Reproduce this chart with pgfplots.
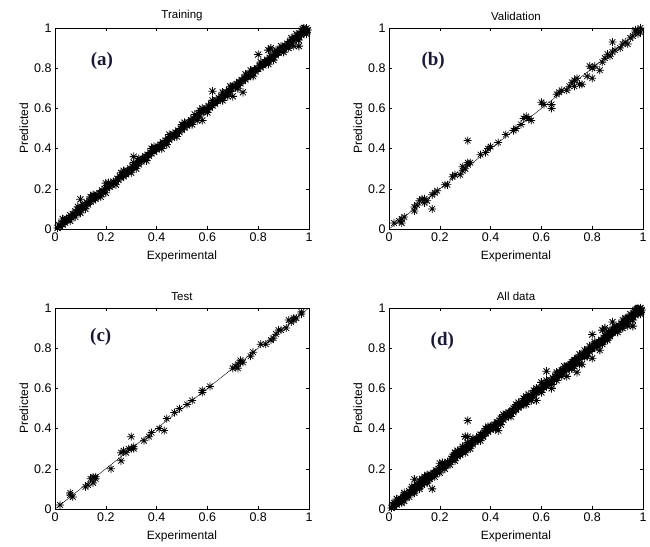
\documentclass[border=0pt]{standalone}
\usepackage{fontspec}
\setmainfont{Liberation Sans}
\newfontfamily\tnr{Liberation Serif}
\usepackage{pgfplots}
\usepackage{pgfplotstable}
\pgfplotsset{compat=1.18}
\usepgfplotslibrary{groupplots}
\usetikzlibrary{calc}
\definecolor{labnavy}{RGB}{25,25,55}

% MATLAB-like '*' marker: plus and cross on top of each other
\pgfdeclareplotmark{mstar}{%
  \pgfpathmoveto{\pgfqpoint{-\pgfplotmarksize}{0pt}}\pgfpathlineto{\pgfqpoint{\pgfplotmarksize}{0pt}}%
  \pgfpathmoveto{\pgfqpoint{0pt}{-\pgfplotmarksize}}\pgfpathlineto{\pgfqpoint{0pt}{\pgfplotmarksize}}%
  \pgfpathmoveto{\pgfqpoint{-.707\pgfplotmarksize}{-.707\pgfplotmarksize}}\pgfpathlineto{\pgfqpoint{.707\pgfplotmarksize}{.707\pgfplotmarksize}}%
  \pgfpathmoveto{\pgfqpoint{-.707\pgfplotmarksize}{.707\pgfplotmarksize}}\pgfpathlineto{\pgfqpoint{.707\pgfplotmarksize}{-.707\pgfplotmarksize}}%
  \pgfusepathqstroke}

\pgfplotstableread{
x y
0.010 0.005
0.015 0.020
0.020 0.012
0.025 0.030
0.030 0.022
0.030 0.050
0.035 0.040
0.040 0.032
0.045 0.052
0.050 0.045
0.055 0.048
0.060 0.068
0.060 0.040
0.065 0.058
0.070 0.075
0.075 0.070
0.080 0.088
0.080 0.060
0.085 0.080
0.090 0.095
0.090 0.110
0.095 0.088
0.100 0.148
0.100 0.080
0.105 0.110
0.110 0.102
0.115 0.120
0.120 0.115
0.120 0.100
0.125 0.132
0.130 0.122
0.135 0.140
0.140 0.136
0.140 0.160
0.145 0.155
0.150 0.142
0.150 0.170
0.155 0.165
0.160 0.150
0.165 0.170
0.170 0.162
0.175 0.178
0.180 0.176
0.180 0.160
0.185 0.192
0.190 0.182
0.195 0.200
0.200 0.228
0.200 0.180
0.205 0.202
0.210 0.215
0.210 0.230
0.215 0.210
0.220 0.226
0.225 0.220
0.230 0.235
0.240 0.236
0.240 0.220
0.245 0.250
0.250 0.244
0.255 0.262
0.260 0.255
0.260 0.280
0.265 0.268
0.270 0.262
0.270 0.290
0.275 0.282
0.280 0.272
0.285 0.290
0.290 0.284
0.295 0.302
0.300 0.296
0.300 0.280
0.305 0.312
0.310 0.360
0.310 0.330
0.315 0.318
0.320 0.314
0.320 0.300
0.325 0.330
0.330 0.322
0.330 0.350
0.335 0.342
0.340 0.336
0.345 0.350
0.350 0.344
0.355 0.362
0.360 0.355
0.360 0.340
0.365 0.370
0.370 0.364
0.375 0.380
0.380 0.376
0.380 0.400
0.385 0.392
0.390 0.384
0.390 0.410
0.395 0.400
0.400 0.396
0.405 0.410
0.410 0.402
0.415 0.420
0.420 0.418
0.420 0.400
0.425 0.432
0.430 0.420
0.435 0.440
0.440 0.436
0.440 0.420
0.445 0.452
0.450 0.444
0.450 0.470
0.455 0.460
0.460 0.455
0.465 0.472
0.470 0.462
0.475 0.480
0.480 0.476
0.480 0.460
0.485 0.490
0.490 0.482
0.495 0.500
0.500 0.494
0.500 0.520
0.505 0.512
0.510 0.504
0.510 0.530
0.515 0.520
0.520 0.514
0.525 0.530
0.530 0.524
0.535 0.542
0.540 0.536
0.540 0.520
0.545 0.552
0.550 0.570
0.555 0.556
0.560 0.552
0.560 0.540
0.565 0.572
0.570 0.562
0.570 0.590
0.575 0.580
0.580 0.540
0.580 0.600
0.585 0.588
0.590 0.586
0.595 0.600
0.600 0.594
0.600 0.580
0.605 0.612
0.610 0.604
0.615 0.622
0.620 0.685
0.620 0.614
0.620 0.640
0.625 0.630
0.630 0.624
0.635 0.640
0.640 0.636
0.645 0.652
0.650 0.644
0.655 0.660
0.660 0.680
0.660 0.654
0.660 0.640
0.665 0.672
0.670 0.664
0.675 0.680
0.680 0.676
0.680 0.660
0.685 0.692
0.690 0.684
0.690 0.710
0.695 0.700
0.700 0.660
0.700 0.710
0.705 0.712
0.710 0.704
0.715 0.722
0.720 0.714
0.720 0.700
0.725 0.732
0.730 0.724
0.735 0.742
0.740 0.680
0.740 0.736
0.745 0.752
0.750 0.744
0.750 0.770
0.755 0.762
0.760 0.755
0.765 0.770
0.770 0.764
0.770 0.790
0.775 0.782
0.780 0.776
0.780 0.760
0.785 0.792
0.790 0.784
0.795 0.800
0.800 0.868
0.800 0.796
0.805 0.812
0.810 0.804
0.810 0.830
0.815 0.822
0.820 0.814
0.825 0.832
0.830 0.824
0.835 0.842
0.840 0.890
0.840 0.836
0.840 0.820
0.845 0.852
0.850 0.900
0.850 0.844
0.855 0.862
0.860 0.855
0.860 0.840
0.865 0.872
0.870 0.864
0.870 0.890
0.875 0.882
0.880 0.876
0.885 0.892
0.890 0.884
0.890 0.910
0.895 0.902
0.900 0.894
0.900 0.880
0.905 0.912
0.910 0.904
0.915 0.922
0.920 0.914
0.920 0.900
0.925 0.932
0.930 0.924
0.930 0.950
0.935 0.942
0.940 0.936
0.940 0.910
0.945 0.952
0.950 0.944
0.950 0.970
0.955 0.962
0.960 0.910
0.960 0.955
0.960 0.940
0.965 0.972
0.970 0.964
0.970 0.985
0.975 0.982
0.975 0.995
0.980 0.976
0.980 0.990
0.980 1.000
0.985 0.992
0.985 0.980
0.990 0.985
0.990 0.998
0.990 0.970
0.995 0.990
}\training

\pgfplotstableread{
x y
0.02 0.03
0.04 0.04
0.05 0.05
0.05 0.03
0.06 0.06
0.10 0.11
0.10 0.09
0.11 0.12
0.12 0.14
0.13 0.15
0.14 0.15
0.15 0.14
0.14 0.13
0.17 0.10
0.17 0.17
0.18 0.18
0.19 0.19
0.22 0.22
0.23 0.22
0.25 0.26
0.26 0.27
0.28 0.27
0.29 0.29
0.29 0.31
0.30 0.30
0.31 0.33
0.31 0.32
0.32 0.33
0.31 0.44
0.36 0.37
0.38 0.38
0.39 0.40
0.40 0.41
0.43 0.43
0.46 0.47
0.49 0.49
0.50 0.50
0.52 0.52
0.53 0.55
0.54 0.56
0.55 0.55
0.56 0.54
0.60 0.63
0.61 0.62
0.64 0.62
0.64 0.60
0.66 0.67
0.67 0.68
0.68 0.69
0.70 0.69
0.71 0.71
0.72 0.73
0.73 0.74
0.73 0.71
0.74 0.75
0.75 0.72
0.76 0.72
0.78 0.76
0.79 0.81
0.80 0.80
0.80 0.75
0.81 0.81
0.83 0.79
0.84 0.83
0.85 0.85
0.86 0.87
0.87 0.86
0.88 0.93
0.88 0.88
0.89 0.89
0.91 0.90
0.92 0.92
0.93 0.93
0.94 0.92
0.95 0.95
0.96 0.96
0.97 0.98
0.97 0.99
0.98 0.99
0.98 0.97
0.99 0.98
0.99 1.00
}\validation

\pgfplotstableread{
x y
0.02 0.02
0.06 0.07
0.06 0.08
0.07 0.06
0.12 0.11
0.13 0.12
0.14 0.15
0.15 0.16
0.15 0.13
0.16 0.16
0.16 0.15
0.22 0.20
0.26 0.28
0.26 0.24
0.27 0.29
0.28 0.28
0.29 0.30
0.30 0.36
0.30 0.30
0.31 0.31
0.31 0.30
0.35 0.34
0.37 0.36
0.38 0.38
0.41 0.40
0.43 0.39
0.44 0.45
0.47 0.48
0.49 0.50
0.52 0.52
0.54 0.54
0.58 0.58
0.58 0.59
0.61 0.61
0.70 0.70
0.71 0.71
0.72 0.72
0.73 0.74
0.73 0.73
0.72 0.70
0.74 0.73
0.77 0.76
0.78 0.78
0.81 0.82
0.83 0.82
0.85 0.84
0.86 0.85
0.87 0.87
0.88 0.89
0.89 0.89
0.91 0.90
0.92 0.94
0.93 0.93
0.94 0.94
0.94 0.95
0.95 0.95
0.97 0.97
0.97 0.98
}\test

\begin{document}
\begin{tikzpicture}
\begin{groupplot}[
    group style={group size=2 by 2, horizontal sep=80pt, vertical sep=79pt},
    scale only axis, width=254pt, height=201pt,
    xmin=0, xmax=1, ymin=0, ymax=1,
    xtick={0,0.2,...,1}, ytick={0,0.2,...,1},
    tick align=inside, major tick length=3pt,
    tick style={black, line width=0.4pt},
    axis line style={black, line width=0.5pt},
    /pgf/number format/assume math mode=true,
    tick label style={font=\fontsize{12.5}{14}\selectfont},
    label style={font=\fontsize{12}{14}\selectfont},
    title style={font=\fontsize{11.5}{13}\selectfont, yshift=-2pt},
    xlabel={Experimental}, ylabel={Predicted},
    xlabel style={yshift=-3pt}, ylabel style={yshift=-1pt},
    every axis plot/.append style={black},
]
\nextgroupplot[title={Training}]
\addplot[only marks, mark=mstar, mark size=4.2pt, line width=0.85pt] table {\training};
\addplot[no marks, line width=0.4pt] coordinates {(0,0) (1,1)};
\node[font=\tnr\bfseries\fontsize{19}{19}\selectfont, text=labnavy] at (axis cs:0.185,0.836) {(a)};

\nextgroupplot[title={Validation}]
\addplot[only marks, mark=mstar, mark size=4pt, line width=0.75pt] table {\validation};
\addplot[no marks, line width=0.4pt] coordinates {(0,0) (1,1)};
\node[font=\tnr\bfseries\fontsize{19}{19}\selectfont, text=labnavy] at (axis cs:0.174,0.836) {(b)};

\nextgroupplot[title={Test}]
\addplot[only marks, mark=mstar, mark size=4pt, line width=0.75pt] table {\test};
\addplot[no marks, line width=0.4pt] coordinates {(0,0) (1,1)};
\node[font=\tnr\bfseries\fontsize{19}{19}\selectfont, text=labnavy] at (axis cs:0.18,0.855) {(c)};

\nextgroupplot[title={All data}]
\addplot[only marks, mark=mstar, mark size=4.2pt, line width=0.85pt] table {\training};
\addplot[only marks, mark=mstar, mark size=4.2pt, line width=0.85pt] table {\validation};
\addplot[only marks, mark=mstar, mark size=4.2pt, line width=0.85pt] table {\test};
\addplot[no marks, line width=0.4pt] coordinates {(0,0) (1,1)};
\node[font=\tnr\bfseries\fontsize{19}{19}\selectfont, text=labnavy] at (axis cs:0.21,0.835) {(d)};
\end{groupplot}
\pgfresetboundingbox
\path[use as bounding box] ($(group c1r2.south west)+(-55pt,-37pt)$) rectangle ($(group c1r2.south west)+(595pt,509pt)$);
\end{tikzpicture}
\end{document}
